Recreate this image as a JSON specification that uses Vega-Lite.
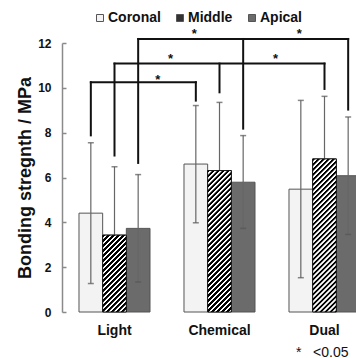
{
  "$schema": "https://vega.github.io/schema/vega-lite/v6.json",
  "width": 294,
  "height": 269,
  "autosize": {"type": "none"},
  "padding": {"left": 62, "top": 43, "right": 0, "bottom": 46},
  "background": "#ffffff",
  "config": {
    "view": {"stroke": null},
    "font": "Liberation Sans"
  },
  "datasets": {
    "bonds": [
      {"group": "Light", "series": "Coronal", "mean": 4.41, "lo": 1.27, "hi": 7.55},
      {"group": "Light", "series": "Middle", "mean": 3.43, "lo": 0.38, "hi": 6.48},
      {"group": "Light", "series": "Apical", "mean": 3.73, "lo": 1.34, "hi": 6.13},
      {"group": "Chemical", "series": "Coronal", "mean": 6.6, "lo": 3.98, "hi": 9.21},
      {"group": "Chemical", "series": "Middle", "mean": 6.31, "lo": 3.27, "hi": 9.35},
      {"group": "Chemical", "series": "Apical", "mean": 5.79, "lo": 3.73, "hi": 7.87},
      {"group": "Dual", "series": "Coronal", "mean": 5.48, "lo": 1.53, "hi": 9.44},
      {"group": "Dual", "series": "Middle", "mean": 6.83, "lo": 4.04, "hi": 9.62},
      {"group": "Dual", "series": "Apical", "mean": 6.08, "lo": 3.46, "hi": 8.7}
    ],
    "legs": [
      {"group": "Light", "series": "Coronal", "level": 10.25, "bottom": 7.88},
      {"group": "Chemical", "series": "Coronal", "level": 10.25, "bottom": 9.43},
      {"group": "Light", "series": "Middle", "level": 11.08, "bottom": 6.98},
      {"group": "Chemical", "series": "Middle", "level": 11.08, "bottom": 9.8},
      {"group": "Dual", "series": "Middle", "level": 11.08, "bottom": 9.95},
      {"group": "Light", "series": "Apical", "level": 12.18, "bottom": 6.65},
      {"group": "Chemical", "series": "Apical", "level": 12.18, "bottom": 8.18},
      {"group": "Dual", "series": "Apical", "level": 12.18, "bottom": 9.03}
    ],
    "stars": [
      {"group": "Light", "series": "Coronal", "level": 10.25},
      {"group": "Light", "series": "Middle", "level": 11.08},
      {"group": "Chemical", "series": "Middle", "level": 11.08},
      {"group": "Light", "series": "Apical", "level": 12.18},
      {"group": "Chemical", "series": "Apical", "level": 12.18}
    ]
  },
  "encoding": {
    "x": {
      "field": "group",
      "type": "nominal",
      "sort": ["Light", "Chemical", "Dual"],
      "scale": {"range": [0, 315], "paddingInner": 0.3238, "paddingOuter": 0.1619},
      "axis": {
        "title": "*\u00a0\u00a0\u00a0<0.05",
        "domain": false,
        "ticks": false,
        "labelAngle": 0,
        "labelFontSize": 14,
        "labelFontWeight": "bold",
        "labelColor": "#111111",
        "labelPadding": 11,
        "titleFontSize": 14,
        "titleFontWeight": "normal",
        "titleColor": "#111111",
        "titleAnchor": "end",
        "titleAlign": "right",
        "titleBaseline": "middle",
        "titleX": 286,
        "titleY": 40
      }
    },
    "xOffset": {
      "field": "series",
      "type": "nominal",
      "sort": ["Coronal", "Middle", "Apical"],
      "scale": {"paddingInner": 0, "paddingOuter": 0}
    }
  },
  "layer": [
    {
      "data": {"name": "bonds"},
      "mark": {"type": "bar", "stroke": "#555555", "strokeWidth": 1},
      "encoding": {
        "y": {
          "field": "mean",
          "type": "quantitative",
          "title": "Bonding stregnth / MPa",
          "scale": {"domain": [0, 12]},
          "axis": {
            "values": [0, 2, 4, 6, 8, 10, 12],
            "grid": false,
            "domainColor": "#8a8a8a",
            "domainWidth": 1.5,
            "tickColor": "#8a8a8a",
            "tickWidth": 1.5,
            "tickSize": -4,
            "labelPadding": 15,
            "labelFontSize": 12,
            "labelFontWeight": "bold",
            "labelColor": "#111111",
            "titleFontSize": 18,
            "titleFontWeight": "bold",
            "titleColor": "#111111",
            "titlePadding": 3
          }
        },
        "color": {
          "field": "series",
          "type": "nominal",
          "sort": ["Coronal", "Middle", "Apical"],
          "scale": {"domain": ["Coronal", "Middle", "Apical"], "range": ["#f3f3f3", "#333333", "#6b6b6b"]},
          "legend": {
            "title": null,
            "orient": "none",
            "direction": "horizontal",
            "legendX": 31,
            "legendY": -32,
            "padding": 0,
            "symbolType": "square",
            "symbolSize": 49,
            "symbolStrokeColor": "#555555",
            "symbolStrokeWidth": 1,
            "symbolOpacity": 1,
            "labelFontSize": 14,
            "labelFontWeight": "bold",
            "labelColor": "#111111",
            "labelOffset": 1,
            "columnPadding": 12
          }
        }
      }
    },
    {
      "data": {"name": "bonds"},
      "mark": {"type": "rule", "color": "#666666", "strokeWidth": 1.2},
      "encoding": {
        "y": {"field": "lo", "type": "quantitative", "title": "Bonding stregnth / MPa", "scale": {"domain": [0, 12]}},
        "y2": {"field": "hi"}
      }
    },
    {
      "data": {"name": "bonds"},
      "mark": {"type": "tick", "orient": "horizontal", "size": 6, "thickness": 1.5, "color": "#555555"},
      "encoding": {
        "y": {"field": "hi", "type": "quantitative", "title": "Bonding stregnth / MPa", "scale": {"domain": [0, 12]}}
      }
    },
    {
      "data": {"name": "bonds"},
      "mark": {"type": "tick", "orient": "horizontal", "size": 6, "thickness": 1.5, "color": "#555555"},
      "encoding": {
        "y": {"field": "lo", "type": "quantitative", "title": "Bonding stregnth / MPa", "scale": {"domain": [0, 12]}}
      }
    },
    {
      "data": {"name": "bonds"},
      "transform": [{"filter": "datum.series === 'Middle' && datum.group === 'Light'"}],
      "mark": {"type": "bar", "stroke": "#111111", "strokeWidth": 1,
        "fill": {"gradient": "linear", "x1": 0, "y1": 0, "x2": 0.7295, "y2": 2.3732, "stops": [
          {"offset":0,"color":"#000"},{"offset":0.01125,"color":"#000"},{"offset":0.01375,"color":"#fff"},{"offset":0.0225,"color":"#fff"},
          {"offset":0.025,"color":"#000"},{"offset":0.03625,"color":"#000"},{"offset":0.03875,"color":"#fff"},{"offset":0.0475,"color":"#fff"},
          {"offset":0.05,"color":"#000"},{"offset":0.06125,"color":"#000"},{"offset":0.06375,"color":"#fff"},{"offset":0.0725,"color":"#fff"},
          {"offset":0.075,"color":"#000"},{"offset":0.08625,"color":"#000"},{"offset":0.08875,"color":"#fff"},{"offset":0.0975,"color":"#fff"},
          {"offset":0.1,"color":"#000"},{"offset":0.11125,"color":"#000"},{"offset":0.11375,"color":"#fff"},{"offset":0.1225,"color":"#fff"},
          {"offset":0.125,"color":"#000"},{"offset":0.13625,"color":"#000"},{"offset":0.13875,"color":"#fff"},{"offset":0.1475,"color":"#fff"},
          {"offset":0.15,"color":"#000"},{"offset":0.16125,"color":"#000"},{"offset":0.16375,"color":"#fff"},{"offset":0.1725,"color":"#fff"},
          {"offset":0.175,"color":"#000"},{"offset":0.18625,"color":"#000"},{"offset":0.18875,"color":"#fff"},{"offset":0.1975,"color":"#fff"},
          {"offset":0.2,"color":"#000"},{"offset":0.21125,"color":"#000"},{"offset":0.21375,"color":"#fff"},{"offset":0.2225,"color":"#fff"},
          {"offset":0.225,"color":"#000"},{"offset":0.23625,"color":"#000"},{"offset":0.23875,"color":"#fff"},{"offset":0.2475,"color":"#fff"},
          {"offset":0.25,"color":"#000"},{"offset":0.26125,"color":"#000"},{"offset":0.26375,"color":"#fff"},{"offset":0.2725,"color":"#fff"},
          {"offset":0.275,"color":"#000"},{"offset":0.28625,"color":"#000"},{"offset":0.28875,"color":"#fff"},{"offset":0.2975,"color":"#fff"},
          {"offset":0.3,"color":"#000"},{"offset":0.31125,"color":"#000"},{"offset":0.31375,"color":"#fff"},{"offset":0.3225,"color":"#fff"},
          {"offset":0.325,"color":"#000"},{"offset":0.33625,"color":"#000"},{"offset":0.33875,"color":"#fff"},{"offset":0.3475,"color":"#fff"},
          {"offset":0.35,"color":"#000"},{"offset":0.36125,"color":"#000"},{"offset":0.36375,"color":"#fff"},{"offset":0.3725,"color":"#fff"},
          {"offset":0.375,"color":"#000"},{"offset":0.38625,"color":"#000"},{"offset":0.38875,"color":"#fff"},{"offset":0.3975,"color":"#fff"},
          {"offset":0.4,"color":"#000"},{"offset":0.41125,"color":"#000"},{"offset":0.41375,"color":"#fff"},{"offset":0.4225,"color":"#fff"},
          {"offset":0.425,"color":"#000"},{"offset":0.43625,"color":"#000"},{"offset":0.43875,"color":"#fff"},{"offset":0.4475,"color":"#fff"},
          {"offset":0.45,"color":"#000"},{"offset":0.46125,"color":"#000"},{"offset":0.46375,"color":"#fff"},{"offset":0.4725,"color":"#fff"},
          {"offset":0.475,"color":"#000"},{"offset":0.48625,"color":"#000"},{"offset":0.48875,"color":"#fff"},{"offset":0.4975,"color":"#fff"},
          {"offset":0.5,"color":"#000"},{"offset":0.51125,"color":"#000"},{"offset":0.51375,"color":"#fff"},{"offset":0.5225,"color":"#fff"},
          {"offset":0.525,"color":"#000"},{"offset":0.53625,"color":"#000"},{"offset":0.53875,"color":"#fff"},{"offset":0.5475,"color":"#fff"},
          {"offset":0.55,"color":"#000"}
        ]}},
      "encoding": {
        "y": {"field": "mean", "type": "quantitative", "title": "Bonding stregnth / MPa", "scale": {"domain": [0, 12]}}
      }
    },
    {
      "data": {"name": "bonds"},
      "transform": [{"filter": "datum.series === 'Middle' && datum.group === 'Chemical'"}],
      "mark": {"type": "bar", "stroke": "#111111", "strokeWidth": 1,
        "fill": {"gradient": "linear", "x1": 0, "y1": 0, "x2": 0.2294, "y2": 1.3731, "stops": [
          {"offset":0,"color":"#000"},{"offset":0.01125,"color":"#000"},{"offset":0.01375,"color":"#fff"},{"offset":0.0225,"color":"#fff"},
          {"offset":0.025,"color":"#000"},{"offset":0.03625,"color":"#000"},{"offset":0.03875,"color":"#fff"},{"offset":0.0475,"color":"#fff"},
          {"offset":0.05,"color":"#000"},{"offset":0.06125,"color":"#000"},{"offset":0.06375,"color":"#fff"},{"offset":0.0725,"color":"#fff"},
          {"offset":0.075,"color":"#000"},{"offset":0.08625,"color":"#000"},{"offset":0.08875,"color":"#fff"},{"offset":0.0975,"color":"#fff"},
          {"offset":0.1,"color":"#000"},{"offset":0.11125,"color":"#000"},{"offset":0.11375,"color":"#fff"},{"offset":0.1225,"color":"#fff"},
          {"offset":0.125,"color":"#000"},{"offset":0.13625,"color":"#000"},{"offset":0.13875,"color":"#fff"},{"offset":0.1475,"color":"#fff"},
          {"offset":0.15,"color":"#000"},{"offset":0.16125,"color":"#000"},{"offset":0.16375,"color":"#fff"},{"offset":0.1725,"color":"#fff"},
          {"offset":0.175,"color":"#000"},{"offset":0.18625,"color":"#000"},{"offset":0.18875,"color":"#fff"},{"offset":0.1975,"color":"#fff"},
          {"offset":0.2,"color":"#000"},{"offset":0.21125,"color":"#000"},{"offset":0.21375,"color":"#fff"},{"offset":0.2225,"color":"#fff"},
          {"offset":0.225,"color":"#000"},{"offset":0.23625,"color":"#000"},{"offset":0.23875,"color":"#fff"},{"offset":0.2475,"color":"#fff"},
          {"offset":0.25,"color":"#000"},{"offset":0.26125,"color":"#000"},{"offset":0.26375,"color":"#fff"},{"offset":0.2725,"color":"#fff"},
          {"offset":0.275,"color":"#000"},{"offset":0.28625,"color":"#000"},{"offset":0.28875,"color":"#fff"},{"offset":0.2975,"color":"#fff"},
          {"offset":0.3,"color":"#000"},{"offset":0.31125,"color":"#000"},{"offset":0.31375,"color":"#fff"},{"offset":0.3225,"color":"#fff"},
          {"offset":0.325,"color":"#000"},{"offset":0.33625,"color":"#000"},{"offset":0.33875,"color":"#fff"},{"offset":0.3475,"color":"#fff"},
          {"offset":0.35,"color":"#000"},{"offset":0.36125,"color":"#000"},{"offset":0.36375,"color":"#fff"},{"offset":0.3725,"color":"#fff"},
          {"offset":0.375,"color":"#000"},{"offset":0.38625,"color":"#000"},{"offset":0.38875,"color":"#fff"},{"offset":0.3975,"color":"#fff"},
          {"offset":0.4,"color":"#000"},{"offset":0.41125,"color":"#000"},{"offset":0.41375,"color":"#fff"},{"offset":0.4225,"color":"#fff"},
          {"offset":0.425,"color":"#000"},{"offset":0.43625,"color":"#000"},{"offset":0.43875,"color":"#fff"},{"offset":0.4475,"color":"#fff"},
          {"offset":0.45,"color":"#000"},{"offset":0.46125,"color":"#000"},{"offset":0.46375,"color":"#fff"},{"offset":0.4725,"color":"#fff"},
          {"offset":0.475,"color":"#000"},{"offset":0.48625,"color":"#000"},{"offset":0.48875,"color":"#fff"},{"offset":0.4975,"color":"#fff"},
          {"offset":0.5,"color":"#000"},{"offset":0.51125,"color":"#000"},{"offset":0.51375,"color":"#fff"},{"offset":0.5225,"color":"#fff"},
          {"offset":0.525,"color":"#000"},{"offset":0.53625,"color":"#000"},{"offset":0.53875,"color":"#fff"},{"offset":0.5475,"color":"#fff"},
          {"offset":0.55,"color":"#000"},{"offset":0.56125,"color":"#000"},{"offset":0.56375,"color":"#fff"},{"offset":0.5725,"color":"#fff"},
          {"offset":0.575,"color":"#000"},{"offset":0.58625,"color":"#000"},{"offset":0.58875,"color":"#fff"},{"offset":0.5975,"color":"#fff"},
          {"offset":0.6,"color":"#000"},{"offset":0.61125,"color":"#000"},{"offset":0.61375,"color":"#fff"},{"offset":0.6225,"color":"#fff"},
          {"offset":0.625,"color":"#000"},{"offset":0.63625,"color":"#000"},{"offset":0.63875,"color":"#fff"},{"offset":0.6475,"color":"#fff"},
          {"offset":0.65,"color":"#000"},{"offset":0.66125,"color":"#000"},{"offset":0.66375,"color":"#fff"},{"offset":0.6725,"color":"#fff"},
          {"offset":0.675,"color":"#000"},{"offset":0.68625,"color":"#000"},{"offset":0.68875,"color":"#fff"},{"offset":0.6975,"color":"#fff"},
          {"offset":0.7,"color":"#000"},{"offset":0.71125,"color":"#000"},{"offset":0.71375,"color":"#fff"},{"offset":0.7225,"color":"#fff"},
          {"offset":0.725,"color":"#000"},{"offset":0.73625,"color":"#000"},{"offset":0.73875,"color":"#fff"},{"offset":0.7475,"color":"#fff"},
          {"offset":0.75,"color":"#000"},{"offset":0.76125,"color":"#000"},{"offset":0.76375,"color":"#fff"},{"offset":0.7725,"color":"#fff"},
          {"offset":0.775,"color":"#000"},{"offset":0.78625,"color":"#000"},{"offset":0.78875,"color":"#fff"},{"offset":0.7975,"color":"#fff"},
          {"offset":0.8,"color":"#000"},{"offset":0.81125,"color":"#000"},{"offset":0.81375,"color":"#fff"},{"offset":0.8225,"color":"#fff"},
          {"offset":0.825,"color":"#000"},{"offset":0.83625,"color":"#000"},{"offset":0.83875,"color":"#fff"},{"offset":0.8475,"color":"#fff"},
          {"offset":0.85,"color":"#000"},{"offset":0.86125,"color":"#000"},{"offset":0.86375,"color":"#fff"},{"offset":0.8725,"color":"#fff"},
          {"offset":0.875,"color":"#000"}
        ]}},
      "encoding": {
        "y": {"field": "mean", "type": "quantitative", "title": "Bonding stregnth / MPa", "scale": {"domain": [0, 12]}}
      }
    },
    {
      "data": {"name": "bonds"},
      "transform": [{"filter": "datum.series === 'Middle' && datum.group === 'Dual'"}],
      "mark": {"type": "bar", "stroke": "#111111", "strokeWidth": 1,
        "fill": {"gradient": "linear", "x1": 0, "y1": 0, "x2": 0.1967, "y2": 1.2742, "stops": [
          {"offset":0,"color":"#000"},{"offset":0.01125,"color":"#000"},{"offset":0.01375,"color":"#fff"},{"offset":0.0225,"color":"#fff"},
          {"offset":0.025,"color":"#000"},{"offset":0.03625,"color":"#000"},{"offset":0.03875,"color":"#fff"},{"offset":0.0475,"color":"#fff"},
          {"offset":0.05,"color":"#000"},{"offset":0.06125,"color":"#000"},{"offset":0.06375,"color":"#fff"},{"offset":0.0725,"color":"#fff"},
          {"offset":0.075,"color":"#000"},{"offset":0.08625,"color":"#000"},{"offset":0.08875,"color":"#fff"},{"offset":0.0975,"color":"#fff"},
          {"offset":0.1,"color":"#000"},{"offset":0.11125,"color":"#000"},{"offset":0.11375,"color":"#fff"},{"offset":0.1225,"color":"#fff"},
          {"offset":0.125,"color":"#000"},{"offset":0.13625,"color":"#000"},{"offset":0.13875,"color":"#fff"},{"offset":0.1475,"color":"#fff"},
          {"offset":0.15,"color":"#000"},{"offset":0.16125,"color":"#000"},{"offset":0.16375,"color":"#fff"},{"offset":0.1725,"color":"#fff"},
          {"offset":0.175,"color":"#000"},{"offset":0.18625,"color":"#000"},{"offset":0.18875,"color":"#fff"},{"offset":0.1975,"color":"#fff"},
          {"offset":0.2,"color":"#000"},{"offset":0.21125,"color":"#000"},{"offset":0.21375,"color":"#fff"},{"offset":0.2225,"color":"#fff"},
          {"offset":0.225,"color":"#000"},{"offset":0.23625,"color":"#000"},{"offset":0.23875,"color":"#fff"},{"offset":0.2475,"color":"#fff"},
          {"offset":0.25,"color":"#000"},{"offset":0.26125,"color":"#000"},{"offset":0.26375,"color":"#fff"},{"offset":0.2725,"color":"#fff"},
          {"offset":0.275,"color":"#000"},{"offset":0.28625,"color":"#000"},{"offset":0.28875,"color":"#fff"},{"offset":0.2975,"color":"#fff"},
          {"offset":0.3,"color":"#000"},{"offset":0.31125,"color":"#000"},{"offset":0.31375,"color":"#fff"},{"offset":0.3225,"color":"#fff"},
          {"offset":0.325,"color":"#000"},{"offset":0.33625,"color":"#000"},{"offset":0.33875,"color":"#fff"},{"offset":0.3475,"color":"#fff"},
          {"offset":0.35,"color":"#000"},{"offset":0.36125,"color":"#000"},{"offset":0.36375,"color":"#fff"},{"offset":0.3725,"color":"#fff"},
          {"offset":0.375,"color":"#000"},{"offset":0.38625,"color":"#000"},{"offset":0.38875,"color":"#fff"},{"offset":0.3975,"color":"#fff"},
          {"offset":0.4,"color":"#000"},{"offset":0.41125,"color":"#000"},{"offset":0.41375,"color":"#fff"},{"offset":0.4225,"color":"#fff"},
          {"offset":0.425,"color":"#000"},{"offset":0.43625,"color":"#000"},{"offset":0.43875,"color":"#fff"},{"offset":0.4475,"color":"#fff"},
          {"offset":0.45,"color":"#000"},{"offset":0.46125,"color":"#000"},{"offset":0.46375,"color":"#fff"},{"offset":0.4725,"color":"#fff"},
          {"offset":0.475,"color":"#000"},{"offset":0.48625,"color":"#000"},{"offset":0.48875,"color":"#fff"},{"offset":0.4975,"color":"#fff"},
          {"offset":0.5,"color":"#000"},{"offset":0.51125,"color":"#000"},{"offset":0.51375,"color":"#fff"},{"offset":0.5225,"color":"#fff"},
          {"offset":0.525,"color":"#000"},{"offset":0.53625,"color":"#000"},{"offset":0.53875,"color":"#fff"},{"offset":0.5475,"color":"#fff"},
          {"offset":0.55,"color":"#000"},{"offset":0.56125,"color":"#000"},{"offset":0.56375,"color":"#fff"},{"offset":0.5725,"color":"#fff"},
          {"offset":0.575,"color":"#000"},{"offset":0.58625,"color":"#000"},{"offset":0.58875,"color":"#fff"},{"offset":0.5975,"color":"#fff"},
          {"offset":0.6,"color":"#000"},{"offset":0.61125,"color":"#000"},{"offset":0.61375,"color":"#fff"},{"offset":0.6225,"color":"#fff"},
          {"offset":0.625,"color":"#000"},{"offset":0.63625,"color":"#000"},{"offset":0.63875,"color":"#fff"},{"offset":0.6475,"color":"#fff"},
          {"offset":0.65,"color":"#000"},{"offset":0.66125,"color":"#000"},{"offset":0.66375,"color":"#fff"},{"offset":0.6725,"color":"#fff"},
          {"offset":0.675,"color":"#000"},{"offset":0.68625,"color":"#000"},{"offset":0.68875,"color":"#fff"},{"offset":0.6975,"color":"#fff"},
          {"offset":0.7,"color":"#000"},{"offset":0.71125,"color":"#000"},{"offset":0.71375,"color":"#fff"},{"offset":0.7225,"color":"#fff"},
          {"offset":0.725,"color":"#000"},{"offset":0.73625,"color":"#000"},{"offset":0.73875,"color":"#fff"},{"offset":0.7475,"color":"#fff"},
          {"offset":0.75,"color":"#000"},{"offset":0.76125,"color":"#000"},{"offset":0.76375,"color":"#fff"},{"offset":0.7725,"color":"#fff"},
          {"offset":0.775,"color":"#000"},{"offset":0.78625,"color":"#000"},{"offset":0.78875,"color":"#fff"},{"offset":0.7975,"color":"#fff"},
          {"offset":0.8,"color":"#000"},{"offset":0.81125,"color":"#000"},{"offset":0.81375,"color":"#fff"},{"offset":0.8225,"color":"#fff"},
          {"offset":0.825,"color":"#000"},{"offset":0.83625,"color":"#000"},{"offset":0.83875,"color":"#fff"},{"offset":0.8475,"color":"#fff"},
          {"offset":0.85,"color":"#000"},{"offset":0.86125,"color":"#000"},{"offset":0.86375,"color":"#fff"},{"offset":0.8725,"color":"#fff"},
          {"offset":0.875,"color":"#000"},{"offset":0.88625,"color":"#000"},{"offset":0.88875,"color":"#fff"},{"offset":0.8975,"color":"#fff"},
          {"offset":0.9,"color":"#000"}
        ]}},
      "encoding": {
        "y": {"field": "mean", "type": "quantitative", "title": "Bonding stregnth / MPa", "scale": {"domain": [0, 12]}}
      }
    },
    {
      "data": {"name": "legs"},
      "mark": {"type": "line", "color": "#111111", "strokeWidth": 2, "strokeCap": "square"},
      "encoding": {
        "y": {"field": "level", "type": "quantitative", "title": "Bonding stregnth / MPa", "scale": {"domain": [0, 12]}},
        "detail": {"field": "series"}
      }
    },
    {
      "data": {"name": "legs"},
      "mark": {"type": "rule", "color": "#111111", "strokeWidth": 2, "strokeCap": "square"},
      "encoding": {
        "y": {"field": "level", "type": "quantitative", "title": "Bonding stregnth / MPa", "scale": {"domain": [0, 12]}},
        "y2": {"field": "bottom"}
      }
    },
    {
      "data": {"name": "stars"},
      "transform": [{"filter": "datum.series !== 'Coronal'"}],
      "mark": {"type": "text", "fontSize": 13, "fontWeight": "bold", "baseline": "alphabetic", "dx": 56, "dy": -1, "color": "#111111"},
      "encoding": {
        "y": {"field": "level", "type": "quantitative", "title": "Bonding stregnth / MPa", "scale": {"domain": [0, 12]}},
        "text": {"value": "*"}
      }
    },
    {
      "data": {"name": "stars"},
      "transform": [{"filter": "datum.series === 'Coronal'"}],
      "mark": {"type": "text", "fontSize": 13, "fontWeight": "bold", "baseline": "alphabetic", "dx": 67, "dy": 2, "color": "#111111"},
      "encoding": {
        "y": {"field": "level", "type": "quantitative", "title": "Bonding stregnth / MPa", "scale": {"domain": [0, 12]}},
        "text": {"value": "*"}
      }
    }
  ]
}
